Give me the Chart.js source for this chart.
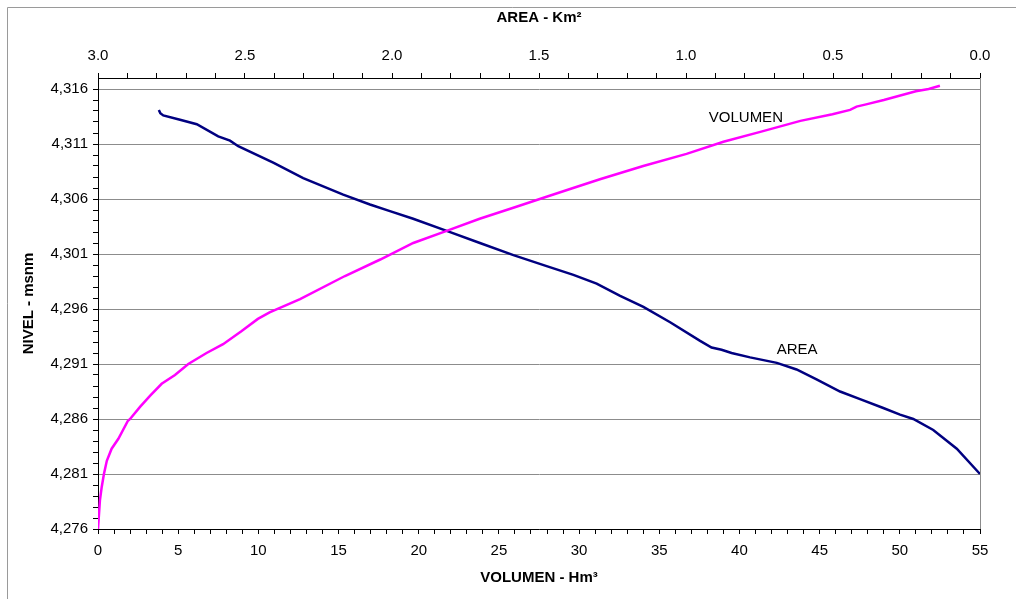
<!DOCTYPE html>
<html>
<head>
<meta charset="utf-8">
<script src="https://cdn.jsdelivr.net/npm/chart.js@4/dist/chart.umd.min.js"></script>
<style>
  body { margin: 0; background: #fff; }
  #wrap { width: 1016px; height: 599px; }
</style>
</head>
<body>
<div id="wrap"><canvas id="curvas" width="1016" height="599"></canvas></div>
<script>
// curva nivel - volumen (Hm3)
var volumen = [0, 0.12, 0.23, 0.37, 0.55, 0.85, 1.27, 1.85, 2.0, 2.62, 3.24, 3.97, 4.8, 5.63, 6.77, 7.8, 8.96, 9.97, 10.7, 12.6, 15.4, 17.6, 19.66, 21.74, 23.8, 25.9, 27.97, 29.63, 31.3, 34.0, 36.7, 39.0, 41.3, 43.8, 45.8, 46.9, 47.3, 47.9, 49.0, 51.0, 51.8, 52.5];
var nivelVol = [4276, 4278.6, 4279.8, 4281, 4282.2, 4283.3, 4284.2, 4285.8, 4286, 4287.1, 4288.1, 4289.2, 4290, 4291, 4292, 4292.8, 4294, 4295.1, 4295.7, 4296.9, 4299.0, 4300.5, 4302.0, 4303.1, 4304.2, 4305.2, 4306.2, 4307.0, 4307.8, 4309.0, 4310.1, 4311.2, 4312.1, 4313.1, 4313.7, 4314.1, 4314.4, 4314.6, 4315.0, 4315.8, 4316.0, 4316.3];

// curva nivel - area (Km2)
var area = [2.793, 2.788, 2.778, 2.721, 2.664, 2.591, 2.551, 2.523, 2.404, 2.302, 2.166, 2.075, 2.007, 1.928, 1.814, 1.701, 1.587, 1.474, 1.383, 1.304, 1.224, 1.145, 1.054, 0.952, 0.913, 0.879, 0.845, 0.782, 0.691, 0.624, 0.556, 0.476, 0.408, 0.329, 0.272, 0.227, 0.159, 0.079, 0.0];
var nivelArea = [4314.1, 4313.8, 4313.6, 4313.2, 4312.8, 4311.7, 4311.3, 4310.8, 4309.3, 4307.9, 4306.4, 4305.5, 4304.9, 4304.2, 4303.1, 4302.0, 4300.9, 4299.9, 4299.1, 4298.3, 4297.2, 4296.2, 4294.8, 4293.1, 4292.5, 4292.3, 4292.0, 4291.6, 4291.1, 4290.5, 4289.6, 4288.5, 4287.8, 4287.0, 4286.4, 4286.0, 4285.0, 4283.3, 4281.0];

// ejes
var volTicks = [];   // 0..55 cada 1 (menores), etiqueta cada 5
for (var i = 0; i <= 55; i++) volTicks.push(i);
var areaTicks = [];  // 0.0..3.0 cada 0.1, etiqueta cada 0.5
for (var j = 0; j <= 30; j++) areaTicks.push(j / 10);
var nivelTicks = []; // 4276..4316 cada 1, etiqueta cada 5
for (var k = 4276; k <= 4316; k++) nivelTicks.push(k);

// rotulos de las curvas (en unidades de los ejes)
var rotulos = [
  { text: 'VOLUMEN', x: 40.4, y: 4313.4 },
  { text: 'AREA', x: 43.6, y: 4292.3 }
];

function pts(xs, ys) {
  return xs.map(function (v, n) { return { x: v, y: ys[n] }; });
}

var fuente = { family: 'Liberation Sans, Arial, sans-serif', size: 15 };
var fuenteBold = { family: 'Liberation Sans, Arial, sans-serif', size: 15, weight: 'bold' };

var marco = {
  id: 'marco',
  beforeDraw: function (chart) {
    var c = chart.ctx;
    c.save();
    c.strokeStyle = '#9a9a9a';
    c.lineWidth = 1;
    c.beginPath();
    c.moveTo(7.5, 620);
    c.lineTo(7.5, 7.5);
    c.lineTo(1030, 7.5);
    c.stroke();
    c.restore();
  },
  beforeDatasetsDraw: function (chart) {
    var a = chart.chartArea, c = chart.ctx;
    c.save();
    c.strokeStyle = '#8c8c8c';
    c.lineWidth = 1;
    c.beginPath();
    c.moveTo(Math.round(a.right) + 0.5, a.top);
    c.lineTo(Math.round(a.right) + 0.5, a.bottom);
    c.stroke();
    c.restore();
  },
  afterDatasetsDraw: function (chart) {
    var c = chart.ctx, sx = chart.scales.x, sy = chart.scales.y;
    c.save();
    c.fillStyle = '#000';
    c.font = '15px "Liberation Sans", Arial, sans-serif';
    c.textAlign = 'center';
    c.textBaseline = 'middle';
    rotulos.forEach(function (r) {
      c.fillText(r.text, sx.getPixelForValue(r.x), sy.getPixelForValue(r.y));
    });
    c.restore();
  }
};

var ctx = document.getElementById('curvas').getContext('2d');
window.myChart = new Chart(ctx, {
  type: 'scatter',
  data: {
    datasets: [{
      label: 'VOLUMEN',
      data: pts(volumen, nivelVol),
      xAxisID: 'x',
      yAxisID: 'y',
      showLine: true,
      borderColor: '#ff00ff',
      borderWidth: 2.5,
      pointRadius: 0,
      tension: 0
    }, {
      label: 'AREA',
      data: pts(area, nivelArea),
      xAxisID: 'x2',
      yAxisID: 'y',
      showLine: true,
      borderColor: '#000080',
      borderWidth: 2.5,
      pointRadius: 0,
      tension: 0
    }]
  },
  options: {
    responsive: false,
    animation: false,
    layout: { padding: { left: 0, right: 36, top: 0, bottom: 0 } },
    plugins: {
      legend: { display: false },
      tooltip: { enabled: false }
    },
    scales: {
      x: {
        type: 'linear',
        position: 'bottom',
        min: 0,
        max: 55,
        afterBuildTicks: function (s) { s.ticks = volTicks.map(function (v) { return { value: v }; }); },
        afterFit: function (s) { s.height = 70; },
        ticks: {
          autoSkip: false,
          maxRotation: 0,
          padding: 8,
          color: '#000',
          font: fuente,
          callback: function (v) { return Math.round(v) % 5 === 0 ? String(Math.round(v)) : ''; }
        },
        grid: { drawOnChartArea: false, color: '#000', tickLength: 5 },
        border: { color: '#000', width: 1 },
        title: { display: true, text: 'VOLUMEN - Hm³', color: '#000', font: fuenteBold, padding: { top: 0, bottom: 12 } }
      },
      x2: {
        type: 'linear',
        position: 'top',
        reverse: true,
        min: 0,
        max: 3,
        afterBuildTicks: function (s) { s.ticks = areaTicks.map(function (v) { return { value: v }; }); },
        afterFit: function (s) { s.height = 78; },
        ticks: {
          autoSkip: false,
          maxRotation: 0,
          padding: 8,
          color: '#000',
          font: fuente,
          callback: function (v) { return Math.round(v * 10) % 5 === 0 ? v.toFixed(1) : ''; }
        },
        grid: { drawOnChartArea: false, color: '#000', tickLength: 5 },
        border: { color: '#000', width: 1 },
        title: { display: true, text: 'AREA - Km²', color: '#000', font: fuenteBold, padding: { top: 9, bottom: 0 } }
      },
      y: {
        type: 'linear',
        position: 'left',
        min: 4276,
        max: 4317,
        afterBuildTicks: function (s) { s.ticks = nivelTicks.map(function (v) { return { value: v }; }); },
        afterFit: function (s) { s.width = 98; },
        ticks: {
          autoSkip: false,
          padding: 5,
          color: '#000',
          font: fuente,
          callback: function (v) { return (Math.round(v) - 4276) % 5 === 0 ? Math.round(v).toLocaleString('en-US') : ''; }
        },
        grid: {
          color: function (c) {
            var v = c.tick ? Math.round(c.tick.value) : 0;
            return (v - 4276) % 5 === 0 ? '#8c8c8c' : 'rgba(0,0,0,0)';
          },
          tickColor: '#000',
          tickLength: 5
        },
        border: { color: '#000', width: 1 },
        title: { display: true, text: 'NIVEL - msnm', color: '#000', font: fuenteBold, padding: { top: 20, bottom: 0 } }
      }
    }
  },
  plugins: [marco]
});
</script>
</body>
</html>
